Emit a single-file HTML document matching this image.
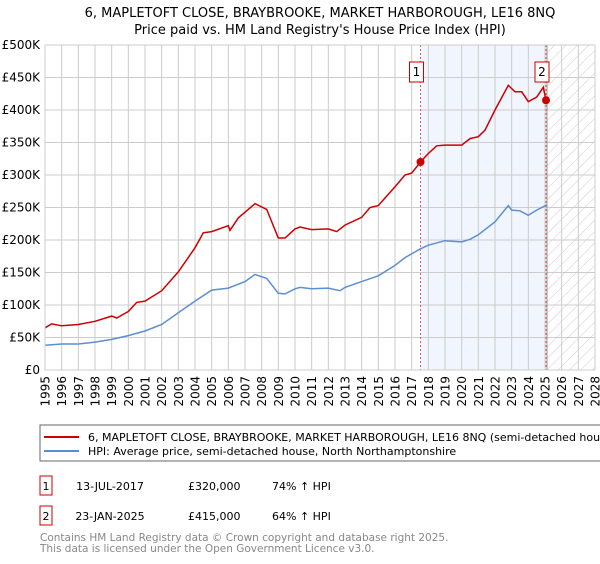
<!DOCTYPE html>
<html><head><meta charset="utf-8"><style>
body{margin:0;background:#fff;font-family:"DejaVu Sans","Liberation Sans",sans-serif;}
svg text{font-family:"DejaVu Sans","Liberation Sans",sans-serif;}
</style></head><body>
<svg id="c" width="600" height="560" xmlns="http://www.w3.org/2000/svg">
<defs><pattern id="hatch" width="8" height="8" patternUnits="userSpaceOnUse" patternTransform="rotate(45)"><line x1="0" y1="0" x2="0" y2="8" stroke="#ccc" stroke-width="1"/></pattern></defs>
<text x="320" y="17" text-anchor="middle" font-size="13">6, MAPLETOFT CLOSE, BRAYBROOKE, MARKET HARBOROUGH, LE16 8NQ</text>
<text x="320" y="34" text-anchor="middle" font-size="13">Price paid vs. HM Land Registry's House Price Index (HPI)</text>
<g id="plot"></g>
<rect x="40" y="425" width="570" height="36" fill="#fff" stroke="#666"/>
<line x1="44" y1="437" x2="79" y2="437" stroke="#cc0000" stroke-width="2"/>
<text x="88" y="441" font-size="11">6, MAPLETOFT CLOSE, BRAYBROOKE, MARKET HARBOROUGH, LE16 8NQ (semi-detached house)</text>
<line x1="44" y1="451" x2="79" y2="451" stroke="#5b8fd4" stroke-width="2"/>
<text x="88" y="455" font-size="11">HPI: Average price, semi-detached house, North Northamptonshire</text>
<rect x="40" y="476" width="12" height="19" fill="#fff" stroke="#cc0000"/>
<text x="46" y="490" font-size="11" text-anchor="middle">1</text>
<text x="110" y="490" font-size="11" text-anchor="middle">13-JUL-2017</text>
<text x="188" y="490" font-size="11">£320,000</text>
<text x="272" y="490" font-size="11">74% ↑ HPI</text>
<rect x="40" y="506" width="12" height="19" fill="#fff" stroke="#cc0000"/>
<text x="46" y="520" font-size="11" text-anchor="middle">2</text>
<text x="110" y="520" font-size="11" text-anchor="middle">23-JAN-2025</text>
<text x="188" y="520" font-size="11">£415,000</text>
<text x="272" y="520" font-size="11">64% ↑ HPI</text>
<text x="40" y="541" font-size="10.5" fill="#888">Contains HM Land Registry data © Crown copyright and database right 2025.</text>
<text x="40" y="552" font-size="10.5" fill="#888">This data is licensed under the Open Government Licence v3.0.</text>
</svg>
<script>
const yTicks=[0,50,100,150,200,250,300,350,400,450,500];
const yTickLabels=["£0","£50K","£100K","£150K","£200K","£250K","£300K","£350K","£400K","£450K","£500K"];
const xYears=[1995,1996,1997,1998,1999,2000,2001,2002,2003,2004,2005,2006,2007,2008,2009,2010,2011,2012,2013,2014,2015,2016,2017,2018,2019,2020,2021,2022,2023,2024,2025,2026,2027,2028];
const hpiYears=[1995,1996,1997,1998,1999,2000,2001,2002,2003,2004,2005,2006,2007,2007.6,2008.3,2009,2009.4,2010,2010.3,2011,2012,2012.7,2013,2014,2015,2016,2016.6,2017.5,2018,2019,2020,2020.5,2021,2022,2022.8,2023,2023.5,2024,2024.5,2025.1];
const hpiValues=[38,40,40,43,47,53,60,70,88,106,123,126,136,147,141,118,117,125,127,125,126,122,127,136,145,161,173,186,192,199,197,201,208,228,253,246,245,238,246,254];
const propYears=[1995,1995.4,1996,1997,1998,1999,1999.3,2000,2000.5,2001,2002,2003,2004,2004.5,2005,2006,2006.1,2006.6,2007.6,2008.3,2009,2009.4,2010,2010.3,2011,2012,2012.5,2013,2014,2014.5,2015,2016,2016.6,2017,2017.53,2018,2018.5,2019,2020,2020.5,2021,2021.4,2022,2022.8,2023.2,2023.6,2024,2024.5,2024.9,2025.06];
const propValues=[65,71,68,70,75,83,80,90,104,106,122,151,188,211,213,222,215,234,256,247,203,203,217,220,216,217,213,223,235,250,253,282,300,303,320,333,345,346,346,356,359,369,400,438,428,428,413,420,435,415];
const saleYears=[2017.53,2025.06];
const saleValues=[320,415];
const saleLabels=["1","2"];
const NS="http://www.w3.org/2000/svg";
const L=45,R=595,T=45,B=370,X0=1995,X1=2028,YMAX=500;
const xs=y=>L+(y-X0)/(X1-X0)*(R-L);
const ys=v=>B-v/YMAX*(B-T);
const g=document.getElementById('plot');
function mk(tag,attrs){const e=document.createElementNS(NS,tag);for(const k in attrs)e.setAttribute(k,attrs[k]);g.appendChild(e);return e;}
let e;
e=mk('rect',{x:xs(saleYears[0]),y:T,width:xs(saleYears[1])-xs(saleYears[0]),height:B-T,fill:'#eef2fc',opacity:0.8});


const hx=xs(2025.12);
e=mk('rect',{x:hx,y:T,width:R-hx,height:B-T,fill:'url(#hatch)'});


xYears.forEach(yr=>{
 e=mk('line',{x1:xs(yr),x2:xs(yr),y1:T,y2:B,stroke:'#ccc','stroke-width':1});
 
 
 const tx=xs(yr)+4.5;
 e=mk('text',{x:tx,y:376,'text-anchor':'end','font-size':12,transform:'rotate(-90 '+tx+' 376)'});
 e.textContent=yr;
 
 
});
yTicks.forEach((v,i)=>{
 e=mk('line',{x1:L,x2:R,y1:ys(v),y2:ys(v),stroke:'#ccc','stroke-width':1});
 
 
 e=mk('text',{x:40,y:ys(v)+4,'text-anchor':'end','font-size':12});
 e.textContent=yTickLabels[i];
 
 
});
e=mk('line',{x1:hx,x2:hx,y1:T,y2:B,stroke:'#999','stroke-width':1});


saleYears.forEach((yr,i)=>{
 e=mk('line',{x1:xs(yr),x2:xs(yr),y1:T,y2:B,stroke:'#e06060','stroke-width':1,'stroke-dasharray':'2,2'});
 
 
});
function pts(xa,va){return xa.map((x,i)=>xs(x).toFixed(1)+','+ys(va[i]).toFixed(1)).join(' ');}
e=mk('polyline',{points:pts(hpiYears,hpiValues),fill:'none',stroke:'#5b8fd4','stroke-width':1.5});


e=mk('polyline',{points:pts(propYears,propValues),fill:'none',stroke:'#cc0000','stroke-width':1.5});


saleYears.forEach((yr,i)=>{
 e=mk('circle',{cx:xs(yr),cy:ys(saleValues[i]),r:4,fill:'#cc0000'});
 
 
 e=mk('rect',{x:xs(yr)-11,y:62,width:14,height:20,fill:'#fff',stroke:'#cc0000'});
 
 
 e=mk('text',{x:xs(yr)-4,y:76,'text-anchor':'middle','font-size':12});
 e.textContent=saleLabels[i];
 
 
});
e=mk('rect',{x:L,y:T,width:R-L,height:B-T,fill:'none',stroke:'#ccc'});


</script>
</body></html>
